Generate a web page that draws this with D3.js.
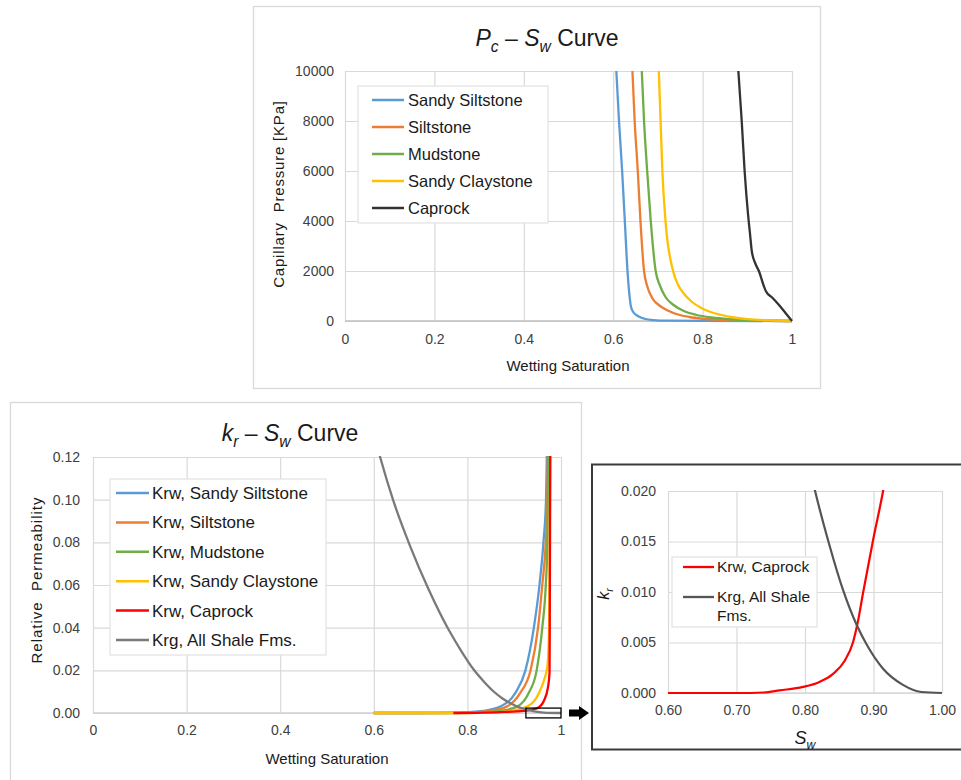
<!DOCTYPE html>
<html><head><meta charset="utf-8">
<script src="https://cdn.jsdelivr.net/npm/d3@7"></script>
<style>body{margin:0;background:#fff}svg{display:block}</style>
</head><body>
<svg id="c" width="961" height="780"></svg>
<script>
// ---------------- DATA ----------------
// Pc–Sw curves: [wetting saturation, capillary pressure kPa]
const pcNames = ["Sandy Siltstone", "Siltstone", "Mudstone", "Sandy Claystone", "Caprock"];
const pcSandySiltstone = [[0.607,10000],[0.613,8000],[0.620,6000],[0.626,4000],[0.632,2000],[0.636,1100],[0.640,550],[0.646,330],[0.656,190],[0.670,90],[0.690,35],[0.720,12],[0.800,3],[1.0,0]];
const pcSiltstone = [[0.643,10000],[0.648,8000],[0.655,6000],[0.661,4000],[0.669,2000],[0.676,1400],[0.688,900],[0.705,600],[0.722,420],[0.745,260],[0.770,160],[0.800,90],[0.850,40],[0.920,12],[1.0,0]];
const pcMudstone = [[0.664,10000],[0.669,8000],[0.676,6000],[0.684,4000],[0.695,2000],[0.705,1400],[0.717,960],[0.735,640],[0.758,400],[0.785,250],[0.820,140],[0.860,70],[0.920,25],[1.0,0]];
const pcSandyClaystone = [[0.702,10000],[0.706,8000],[0.710,6000],[0.717,4000],[0.734,2000],[0.745,1450],[0.757,1120],[0.775,780],[0.795,540],[0.815,380],[0.840,250],[0.870,140],[0.900,75],[0.950,25],[1.0,0]];
const pcCaprock = [[0.880,10000],[0.8875,8000],[0.894,6000],[0.902,4200],[0.906,3500],[0.910,2800],[0.918,2300],[0.927,1950],[0.935,1500],[0.942,1180],[0.955,950],[0.971,640],[0.985,330],[1.0,0]];
const pcXTicks = [0, 0.2, 0.4, 0.6, 0.8, 1];
const pcXTickLabels = ["0", "0.2", "0.4", "0.6", "0.8", "1"];
const pcYTicks = [0, 2000, 4000, 6000, 8000, 10000];

// kr–Sw curves: [wetting saturation, relative permeability]
const krNames = ["Krw, Sandy Siltstone", "Krw, Siltstone", "Krw, Mudstone", "Krw, Sandy Claystone", "Krw, Caprock", "Krg, All Shale Fms."];
const krwSandySiltstone = [[0.6,0],[0.70,0],[0.78,0.0002],[0.834,0.001],[0.870,0.003],[0.9025,0.0094],[0.924,0.02],[0.942,0.04],[0.954,0.06],[0.9625,0.08],[0.968,0.10],[0.9697,0.12],[0.9705,0.13]];
const krwSiltstone = [[0.6,0],[0.75,0],[0.80,0.0002],[0.848,0.001],[0.884,0.003],[0.913,0.0094],[0.935,0.02],[0.951,0.04],[0.960,0.06],[0.9675,0.08],[0.971,0.10],[0.9718,0.12],[0.9725,0.13]];
const krwMudstone = [[0.6,0],[0.78,0],[0.82,0.0002],[0.870,0.001],[0.906,0.003],[0.931,0.0094],[0.948,0.02],[0.960,0.04],[0.9675,0.06],[0.971,0.08],[0.972,0.10],[0.973,0.12],[0.9735,0.13]];
const krwSandyClaystone = [[0.6,0],[0.80,0],[0.85,0.0002],[0.872,0.0005],[0.906,0.0015],[0.935,0.004],[0.953,0.0094],[0.964,0.0156],[0.971,0.022],[0.9745,0.04],[0.976,0.08],[0.977,0.12],[0.9775,0.13]];
const krwCaprock = [[0.77,0],[0.82,0.0001],[0.87,0.0004],[0.92,0.001],[0.9495,0.0023],[0.964,0.006],[0.9725,0.0125],[0.9755,0.019],[0.976,0.04],[0.9765,0.08],[0.977,0.12],[0.9773,0.13]];
const krgAllShale = [[0.6,0.131],[0.6135,0.12],[0.641,0.10],[0.678,0.078],[0.717,0.058],[0.760,0.039],[0.790,0.028],[0.813,0.0205],[0.835,0.0148],[0.8555,0.0102],[0.875,0.0068],[0.890,0.0048],[0.914,0.0024],[0.943,0.0008],[0.970,0.0001],[1.0,0]];
const krXTicks = [0, 0.2, 0.4, 0.6, 0.8, 1];
const krXTickLabels = ["0", "0.2", "0.4", "0.6", "0.8", "1"];
const krYTicks = [0, 0.02, 0.04, 0.06, 0.08, 0.10, 0.12];
const zoomWindow = [[0.925, -0.0023], [1.0, 0.0023]];

// inset (zoom) curves
const insetNames = ["Krw, Caprock", ["Krg, All Shale", "Fms."]];
const insetKrwCaprock = [[0.60,0],[0.70,0],[0.74,0.00005],[0.763,0.00026],[0.797,0.0006],[0.821,0.0011],[0.841,0.0019],[0.858,0.0032],[0.870,0.005],[0.877,0.007],[0.885,0.010],[0.899,0.015],[0.914,0.020],[0.918,0.0215]];
const insetXTicks = [0.6, 0.7, 0.8, 0.9, 1.0];
const insetYTicks = [0, 0.005, 0.010, 0.015, 0.020];

const colors = {blue:"#5B9BD5", orange:"#ED7D31", green:"#70AD47", yellow:"#FFC000", black:"#333333", red:"#FF0000", gray:"#7a7a7a", dgray:"#555555"};

// ---------------- DRAWING ----------------
const FONT = '"Liberation Sans", Arial, Helvetica, sans-serif';
const svg = d3.select("#c").attr("font-family", FONT);
let clipN = 0;

function panel(o) {
  const x = d3.scaleLinear().domain(o.xDomain).range([o.left, o.right]);
  const y = d3.scaleLinear().domain(o.yDomain).range([o.bottom, o.top]);
  const g = svg.append("g");
  const W = o.right - o.left, H = o.bottom - o.top;
  g.append("g").attr("transform", `translate(0,${o.bottom})`)
    .call(d3.axisBottom(x).tickValues(o.xTicks).tickSize(-H).tickFormat(""))
    .call(s => s.select(".domain").remove())
    .call(s => s.selectAll("line").attr("stroke", o.grid).attr("stroke-width", 1.2));
  g.append("g").attr("transform", `translate(${o.left},0)`)
    .call(d3.axisLeft(y).tickValues(o.yTicks).tickSize(-W).tickFormat(""))
    .call(s => s.select(".domain").remove())
    .call(s => s.selectAll("line").attr("stroke", o.grid).attr("stroke-width", 1.2));
  g.append("line").attr("x1", o.left).attr("x2", o.right)
    .attr("y1", y(o.yDomain[0])).attr("y2", y(o.yDomain[0]))
    .attr("stroke", o.axisColor).attr("stroke-width", 1.3);
  g.append("g").attr("transform", `translate(0,${o.bottom})`)
    .call(d3.axisBottom(x).tickValues(o.xTicks).tickFormat(o.xFmt).tickSize(0).tickPadding(o.xPad))
    .call(s => s.select(".domain").remove())
    .call(s => s.selectAll("text").attr("font-size", o.tickFs).attr("fill", "#404040").attr("font-family", FONT));
  g.append("g").attr("transform", `translate(${o.left},0)`)
    .call(d3.axisLeft(y).tickValues(o.yTicks).tickFormat(o.yFmt).tickSize(0).tickPadding(o.yPad))
    .call(s => s.select(".domain").remove())
    .call(s => s.selectAll("text").attr("font-size", o.tickFs).attr("fill", "#404040").attr("font-family", FONT));
  const id = "clip" + (clipN++);
  g.append("clipPath").attr("id", id).append("rect")
    .attr("x", o.left - 2).attr("y", o.top - 1).attr("width", W + 4).attr("height", H + 4);
  const line = d3.line().x(d => x(d[0])).y(d => y(d[1])).curve(d3.curveMonotoneX);
  const lg = g.append("g").attr("clip-path", `url(#${id})`);
  o.series.forEach(s => lg.append("path").attr("d", line(s.data)).attr("fill", "none")
    .attr("stroke", s.color).attr("stroke-width", o.lw).attr("stroke-linejoin", "round"));
  return {x, y, g};
}

function richText(parent, x, y, parts, fs, anchor, rotate, ls) {
  const t = parent.append("text").attr("x", x).attr("y", y).attr("text-anchor", anchor || "middle")
    .attr("font-size", fs).attr("fill", "#1a1a1a").style("white-space", "pre");
  if (ls) t.attr("letter-spacing", ls);
  if (rotate) t.attr("transform", `rotate(-90,${x},${y})`);
  let subbed = false;
  parts.forEach(p => {
    const ts = t.append("tspan").text(p.t);
    if (p.i) ts.attr("font-style", "italic");
    if (p.sub) { ts.attr("font-size", fs * 0.68).attr("dy", fs * 0.28); subbed = true; }
    else if (subbed) { ts.attr("dy", -fs * 0.28); subbed = false; }
  });
  return t;
}

function legend(o) {
  const g = svg.append("g");
  g.append("rect").attr("x", o.x).attr("y", o.y).attr("width", o.w).attr("height", o.h)
    .attr("fill", "#fff").attr("stroke", "#e2e2e2").attr("stroke-width", 1.2);
  o.items.forEach((it, i) => {
    const cy = o.y0 + i * o.dy;
    g.append("line").attr("x1", o.lx0).attr("x2", o.lx1).attr("y1", cy).attr("y2", cy)
      .attr("stroke", it.color).attr("stroke-width", o.lw);
    const lines = Array.isArray(it.name) ? it.name : [it.name];
    const t = g.append("text").attr("x", o.tx).attr("y", cy)
      .attr("font-size", o.fs).attr("fill", "#1a1a1a");
    lines.forEach((l, k) => t.append("tspan").attr("x", o.tx).attr("dy", k === 0 ? "0.35em" : o.lineH).text(l));
  });
}

// ===== Top: Pc–Sw =====
svg.append("rect").attr("x", 253.5).attr("y", 6.5).attr("width", 567).attr("height", 382)
  .attr("fill", "#fff").attr("stroke", "#d9d9d9").attr("stroke-width", 1.3);
const pcColors = [colors.blue, colors.orange, colors.green, colors.yellow, colors.black];
const pcData = [pcSandySiltstone, pcSiltstone, pcMudstone, pcSandyClaystone, pcCaprock];
panel({
  left: 345, right: 792, top: 71, bottom: 321,
  xDomain: [0, 1], yDomain: [0, 10000],
  xTicks: pcXTicks, yTicks: pcYTicks,
  xFmt: (d, i) => pcXTickLabels[i], yFmt: d => String(d),
  xPad: 13, yPad: 11, tickFs: 14, grid: "#d9d9d9", axisColor: "#bfbfbf", lw: 2.3,
  series: pcData.map((d, i) => ({data: d, color: pcColors[i]}))
});
richText(svg, 547, 46, [{t: "P", i: 1}, {t: "c", i: 1, sub: 1}, {t: " – "}, {t: "S", i: 1}, {t: "w", i: 1, sub: 1}, {t: " Curve"}], 23);
richText(svg, 568, 371, [{t: "Wetting Saturation"}], 15);
richText(svg, 284, 194, [{t: "Capillary  Pressure [KPa]"}], 15, "middle", true, 0.8);
legend({x: 358, y: 86, w: 190, h: 137, y0: 100, dy: 27, lx0: 372, lx1: 404, tx: 408, fs: 16.5, lw: 2.5,
  items: pcNames.map((n, i) => ({name: n, color: pcColors[i]}))});

// ===== Bottom-left: kr–Sw =====
svg.append("rect").attr("x", 10.5).attr("y", 402.5).attr("width", 571).attr("height", 390)
  .attr("fill", "#fff").attr("stroke", "#d9d9d9").attr("stroke-width", 1.3);
const krColors = [colors.blue, colors.orange, colors.green, colors.yellow, colors.red, colors.gray];
const krData = [krwSandySiltstone, krwSiltstone, krwMudstone, krwSandyClaystone, krwCaprock, krgAllShale];
const kr = panel({
  left: 93, right: 561, top: 457, bottom: 713,
  xDomain: [0, 1], yDomain: [0, 0.12],
  xTicks: krXTicks, yTicks: krYTicks,
  xFmt: (d, i) => krXTickLabels[i], yFmt: d3.format(".2f"),
  xPad: 12, yPad: 13, tickFs: 14, grid: "#d9d9d9", axisColor: "#d0d0d0", lw: 2.3,
  series: krData.map((d, i) => ({data: d, color: krColors[i]}))
});
richText(svg, 290, 441, [{t: "k", i: 1}, {t: "r", i: 1, sub: 1}, {t: " – "}, {t: "S", i: 1}, {t: "w", i: 1, sub: 1}, {t: " Curve"}], 23);
richText(svg, 327, 764, [{t: "Wetting Saturation"}], 15);
richText(svg, 42, 580, [{t: "Relative  Permeability"}], 15, "middle", true, 1);
legend({x: 110, y: 479, w: 216, h: 176, y0: 493, dy: 29.4, lx0: 116, lx1: 149, tx: 152, fs: 17, lw: 2.5,
  items: krNames.map((n, i) => ({name: n, color: krColors[i]}))});
const zx0 = kr.x(zoomWindow[0][0]), zx1 = kr.x(zoomWindow[1][0]);
const zy0 = kr.y(zoomWindow[1][1]), zy1 = kr.y(zoomWindow[0][1]);
svg.append("rect").attr("x", zx0).attr("y", zy0).attr("width", zx1 - zx0).attr("height", zy1 - zy0)
  .attr("fill", "none").attr("stroke", "#000").attr("stroke-width", 1.3);
const ay = kr.y(0), ax = zx1 + 8;
svg.append("path").attr("fill", "#000")
  .attr("d", `M${ax},${ay - 3.5}H${ax + 10}V${ay - 7}L${ax + 20},${ay}L${ax + 10},${ay + 7}V${ay + 3.5}H${ax}Z`);

// ===== Inset =====
svg.append("rect").attr("x", 592).attr("y", 464.5).attr("width", 380).attr("height", 285)
  .attr("fill", "#fff").attr("stroke", "#3a3a3a").attr("stroke-width", 2);
panel({
  left: 668, right: 942, top: 491, bottom: 693,
  xDomain: [0.6, 1.0], yDomain: [0, 0.02],
  xTicks: insetXTicks, yTicks: insetYTicks,
  xFmt: d3.format(".2f"), yFmt: d3.format(".3f"),
  xPad: 12, yPad: 12, tickFs: 14, grid: "#d9d9d9", axisColor: "#d9d9d9", lw: 2.2,
  series: [{data: insetKrwCaprock, color: colors.red}, {data: krgAllShale, color: colors.dgray}]
});
richText(svg, 805, 744, [{t: "S", i: 1}, {t: "w", i: 1, sub: 1}], 18);
richText(svg, 609, 594, [{t: "k", i: 1}, {t: "r", i: 1, sub: 1}], 16, "middle", true);
legend({x: 672, y: 557, w: 145, h: 70, y0: 567, dy: 30, lx0: 683, lx1: 714, tx: 717, fs: 15.5, lw: 2.3, lineH: 19,
  items: insetNames.map((n, i) => ({name: n, color: [colors.red, colors.dgray][i]}))});
</script>
</body></html>
